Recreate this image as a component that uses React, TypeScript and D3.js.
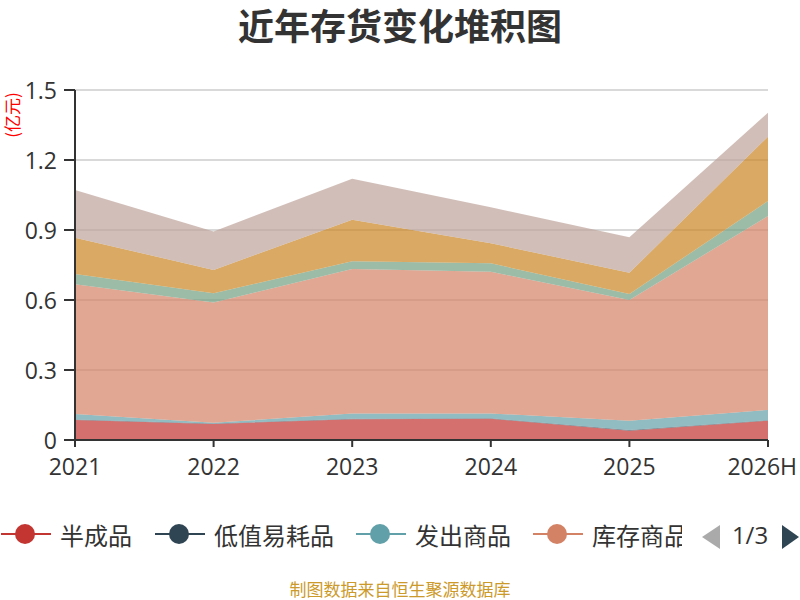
import React from "react";
import * as d3 from "d3";

const categories = ["2021", "2022", "2023", "2024", "2025", "2026H"];
const seriesNames = ["半成品", "低值易耗品", "发出商品", "库存商品", "委托加工物资", "原材料", "在产品", "周转材料"];
const seriesColors = ["#c23531", "#2f4554", "#61a0a8", "#d48265", "#91c7ae", "#749f83", "#ca8622", "#bda29a"];
const banChengPin = [0.086, 0.069, 0.089, 0.091, 0.040, 0.083];
const diZhiYiHao = [0.002, 0.002, 0.002, 0.002, 0.003, 0.002];
const faChuShangPin = [0.023, 0.003, 0.023, 0.021, 0.040, 0.044];
const kuCunShangPin = [0.556, 0.515, 0.619, 0.607, 0.517, 0.831];
const weiTuo = [0, 0, 0, 0, 0, 0];
const yuanCaiLiao = [0.044, 0.040, 0.033, 0.036, 0.026, 0.064];
const zaiChanPin = [0.156, 0.100, 0.178, 0.086, 0.091, 0.276];
const zhouZhuan = [0.204, 0.165, 0.176, 0.154, 0.152, 0.103];
const seriesValues = [banChengPin, diZhiYiHao, faChuShangPin, kuCunShangPin, weiTuo, yuanCaiLiao, zaiChanPin, zhouZhuan];
const yTicks = [0, 0.3, 0.6, 0.9, 1.2, 1.5];
const yTickLabels = ["0", "0.3", "0.6", "0.9", "1.2", "1.5"];
const legendCount = 4;
const pageLabel = "1/3";

const FONT = "'Open Sans', 'Noto Sans CJK SC', sans-serif";

export default function App() {
  const W = 800, H = 600;
  const left = 75, right = 768, top = 90, bottom = 440;
  const x = d3.scalePoint<string>().domain(categories).range([left, right]);
  const y = d3.scaleLinear().domain([0, 1.5]).range([bottom, top]);

  const rows = categories.map((c, i) => {
    const r: any = { cat: c };
    seriesNames.forEach((n, k) => (r[n] = seriesValues[k][i]));
    return r;
  });
  const stack = d3.stack<any>().keys(seriesNames)(rows);
  const area = d3
    .area<any>()
    .x((d) => x(d.data.cat) as number)
    .y0((d) => y(d[0]))
    .y1((d) => y(d[1]));

  const legendX = [0, 154, 355, 532];

  return (
    <svg width={W} height={H} style={{ position: "absolute", left: 0, top: 0, background: "#fff" }} fontFamily={FONT}>
      <defs>
        <clipPath id="legclip">
          <rect x={0} y={500} width={682} height={70} />
        </clipPath>
      </defs>
      <text x={400} y={40} textAnchor="middle" fontSize={36} fontWeight="bold" fill="#333" fontFamily="'Noto Sans CJK SC', sans-serif">
        近年存货变化堆积图
      </text>
      {/* grid */}
      {yTicks.slice(1).map((t) => (
        <line key={t} x1={left} x2={right} y1={y(t)} y2={y(t)} stroke="#ccc" strokeWidth={1.5} />
      ))}
      {/* areas */}
      {stack.map((s, k) => (
        <path key={k} d={area(s) || ""} fill={seriesColors[k]} fillOpacity={0.7} stroke="none" />
      ))}
      {/* y axis */}
      <line x1={left} x2={left} y1={top} y2={bottom} stroke="#333" strokeWidth={2} />
      {yTicks.map((t, i) => (
        <g key={t}>
          <line x1={left - 11} x2={left} y1={y(t)} y2={y(t)} stroke="#333" strokeWidth={2} />
          <text x={57} y={y(t)} textAnchor="end" dominantBaseline="central" fontSize={23} fill="#333">
            {yTickLabels[i]}
          </text>
        </g>
      ))}
      <text
        transform={`translate(19,115) rotate(-90)`}
        textAnchor="middle"
        fontSize={17}
        fill="#ff0000"
        fontFamily="'Noto Sans CJK SC', sans-serif"
      >
        (亿元)
      </text>
      {/* x axis */}
      <line x1={left} x2={right} y1={bottom} y2={bottom} stroke="#333" strokeWidth={2} />
      {categories.map((c, i) => {
        const last = i === categories.length - 1;
        return (
          <g key={c}>
            <line x1={x(c)} x2={x(c)} y1={bottom} y2={bottom + 7} stroke="#333" strokeWidth={2} />
            <text
              x={last ? 797 : x(c)}
              y={475}
              textAnchor={last ? "end" : "middle"}
              fontSize={23}
              fill="#333"
            >
              {c}
            </text>
          </g>
        );
      })}
      {/* legend */}
      <g clipPath="url(#legclip)">
        {seriesNames.slice(0, legendCount).map((n, i) => (
          <g key={n}>
            <line x1={legendX[i] + 1} x2={legendX[i] + 51} y1={534} y2={534} stroke={seriesColors[i]} strokeWidth={2} />
            <circle cx={legendX[i] + 25} cy={534} r={10} fill={seriesColors[i]} />
            <text x={legendX[i] + 60} y={534} dominantBaseline="central" fontSize={24} fill="#333" fontFamily="'Noto Sans CJK SC', sans-serif">
              {n}
            </text>
          </g>
        ))}
      </g>
      <path d="M720,525 L702,537 L720,549 Z" fill="#aaa" />
      <text x={750} y={534} textAnchor="middle" dominantBaseline="central" fontSize={24} fill="#333">
        {pageLabel}
      </text>
      <path d="M782,525 L799,537 L782,549 Z" fill="#2f4554" />
      <text x={400} y={596} textAnchor="middle" fontSize={17} fill="#cc9a2a" fontFamily="'Noto Sans CJK SC', sans-serif">
        制图数据来自恒生聚源数据库
      </text>
    </svg>
  );
}
